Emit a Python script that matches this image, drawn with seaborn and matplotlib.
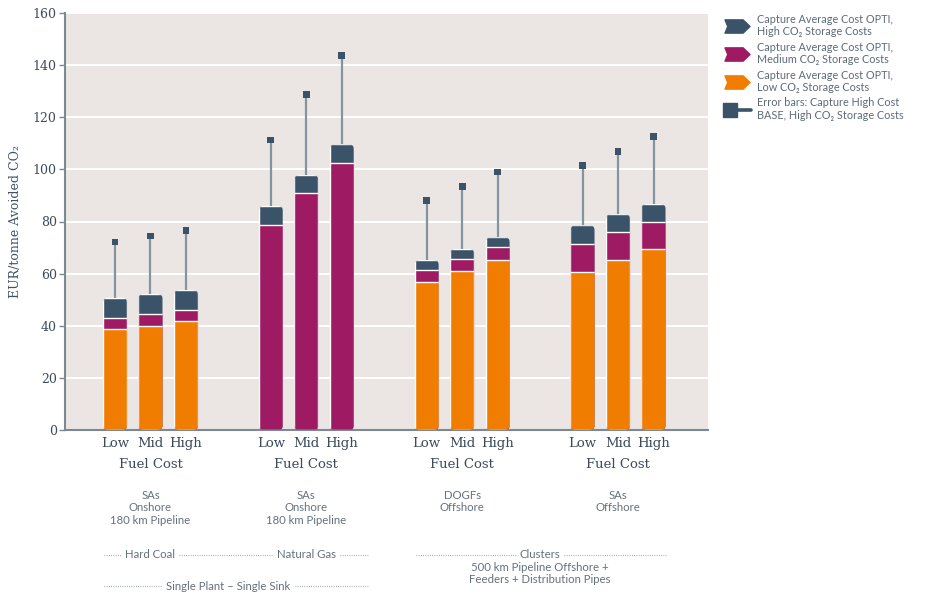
import numpy as np
import pandas as pd
import matplotlib
matplotlib.use("Agg")
import matplotlib.pyplot as plt
import matplotlib.transforms as mtransforms
from matplotlib.patches import FancyBboxPatch
from matplotlib.lines import Line2D
from matplotlib.path import Path
from matplotlib.legend_handler import HandlerBase
import seaborn as sns

# ---------------- data ----------------
groups = ["G1", "G2", "G3", "G4"]
levels = ["Low", "Mid", "High"]
# cumulative tops of each stacked scenario (EUR/tonne avoided CO2)
high_storage = [50.8, 52.2, 53.7, 86.0, 97.8, 109.6, 65.2, 69.5, 73.9, 78.5, 82.8, 86.7]
medium_storage = [42.9, 44.4, 46.0, 78.7, 90.8, 102.3, 61.4, 65.7, 70.1, 71.4, 75.9, 79.8]
low_storage = [38.6, 39.8, 41.7, np.nan, np.nan, np.nan, 56.7, 60.9, 65.2, 60.8, 65.2, 69.5]
error_high = [72.1, 74.4, 76.4, 111.3, 128.8, 143.6, 88.0, 93.4, 99.0, 101.4, 107.0, 112.6]
group_xlabel = "Fuel Cost"
group_desc = ["SAs\nOnshore\n180 km Pipeline", "SAs\nOnshore\n180 km Pipeline",
              "DOGFs\nOffshore", "SAs\nOffshore"]
legend_labels = ["Capture Average Cost OPTI,\nHigh CO\u2082 Storage Costs",
                 "Capture Average Cost OPTI,\nMedium CO\u2082 Storage Costs",
                 "Capture Average Cost OPTI,\nLow CO\u2082 Storage Costs",
                 "Error bars: Capture High Cost\nBASE, High CO\u2082 Storage Costs"]
ylabel = "EUR/tonne Avoided CO\u2082"

# ---------------- style ----------------
DARK = "#3a5369"
MAG = "#9e1a62"
ORA = "#f07d00"
BG = "#ebe6e3"
TXT = "#3b4a5c"
GREY_TXT = "#65717c"
GAP = 4.39
WIDTH = 0.68

sns.set_theme(style="white")
plt.rcParams["font.family"] = ["DejaVu Serif"]

pos = [g * GAP + j for g in range(len(groups)) for j in range(len(levels))]
df = pd.DataFrame({"pos": pos, "high": high_storage, "medium": medium_storage,
                   "low": low_storage, "err": error_high,
                   "level": levels * len(groups)})

fig = plt.figure(figsize=(9.45, 5.98), dpi=100)
ax = fig.add_axes([65 / 945, 1 - 430 / 598, 643 / 945, 417 / 598])
ax.set_facecolor(BG)

series = [("high", DARK), ("medium", MAG), ("low", ORA)]
seg_patches = []
for col, colr in series:
    n0 = len(ax.patches)
    sns.barplot(data=df.dropna(subset=[col]), x="pos", y=col, native_scale=True,
                color=colr, width=WIDTH, errorbar=None, saturation=1,
                edgecolor="white", linewidth=1.0, ax=ax, zorder=3)
    seg_patches.extend(ax.patches[n0:])

ax.set_xlim(-50 / 35.5, -50 / 35.5 + 643 / 35.5)
ax.set_ylim(0, 160)
px_per_x = 35.5
px_per_y = 417 / 160
r = 5.0 / px_per_x
aspect = (5.0 / px_per_y) / r
clips = {}
for p in seg_patches[:len(df)]:
    x0, w, h = p.get_x(), p.get_width(), p.get_height()
    fb = FancyBboxPatch((x0, 0), w, h, boxstyle=f"round,pad=0,rounding_size={r}",
                        mutation_aspect=aspect, transform=ax.transData)
    clips[round(x0 + w / 2, 3)] = fb
for p in seg_patches:
    key = round(p.get_x() + p.get_width() / 2, 3)
    if key in clips:
        p.set_clip_path(clips[key])

# error bars
ax.vlines(df["pos"], df["high"], df["err"], color="#8293a1", lw=1.6, zorder=2)
sns.scatterplot(data=df, x="pos", y="err", marker="s", s=24, color=DARK,
                edgecolor="none", ax=ax, zorder=4, legend=False)

# axes styling
ax.set_yticks(np.arange(0, 161, 20))
ax.yaxis.grid(True, color="white", lw=1.4)
ax.set_axisbelow(True)
for s in ["top", "right"]:
    ax.spines[s].set_visible(False)
for s in ["left", "bottom"]:
    ax.spines[s].set_color("#7c8894")
    ax.spines[s].set_linewidth(1.5)
ax.tick_params(axis="y", length=4, width=1, color="#7c8894", labelsize=9,
               labelcolor=TXT, pad=2, left=True)
ax.set_xticks(pos)
ax.set_xticklabels(levels * len(groups))
ax.tick_params(axis="x", length=0, labelsize=9.5, labelcolor=TXT, pad=5)
ax.set_xlabel("")
ax.set_ylabel(ylabel, fontsize=9, color="#3d5366", labelpad=8)

tr = mtransforms.blended_transform_factory(ax.transData, fig.transFigure)
sans = ["Lato", "DejaVu Sans"]
for g in range(len(groups)):
    cx = g * GAP + 1
    fig.text(cx, 1 - 464 / 598, group_xlabel, transform=tr, ha="center", va="center",
             fontsize=9.5, color=TXT, family=["DejaVu Serif"])
    fig.text(cx, 1 - 490 / 598, group_desc[g], transform=tr, ha="center", va="top",
             fontsize=8.2, color=GREY_TXT, family=sans, linespacing=1.15)

fig.canvas.draw()
renderer = fig.canvas.get_renderer()
inv = ax.transData.inverted()


def dotted_row(x_start, x_end, y_px, items):
    yf = 1 - y_px / 598
    texts = []
    for label, cx in items:
        t = fig.text(cx, yf, label, transform=tr, ha="center", va="center",
                     fontsize=8.2, color=GREY_TXT, family=sans)
        texts.append(t)
    fig.canvas.draw()
    cur = x_start
    pad = 4 / px_per_x
    for t in texts:
        bb = t.get_window_extent(renderer)
        l = inv.transform((bb.x0, 0))[0]
        rgt = inv.transform((bb.x1, 0))[0]
        fig.add_artist(Line2D([cur, l - pad], [yf, yf], transform=tr, color="#939da7",
                              lw=0.9, ls=(0, (0.6, 1.2))))
        cur = rgt + pad
    fig.add_artist(Line2D([cur, x_end], [yf, yf], transform=tr, color="#939da7",
                          lw=0.9, ls=(0, (0.6, 1.2))))


dotted_row(-0.32, 7.12, 555, [("Hard Coal", 1.0), ("Natural Gas", 1 + GAP)])
dotted_row(-0.32, 7.12, 586, [("Single Plant \u2013 Single Sink", 1 + GAP / 2)])
dotted_row(8.48, 15.55, 555, [("Clusters", 1 + 2.5 * GAP)])
fig.text(1 + 2.5 * GAP, 1 - 562 / 598, "500 km Pipeline Offshore +\nFeeders + Distribution Pipes",
         transform=tr, ha="center", va="top", fontsize=8.2, color=GREY_TXT,
         family=sans, linespacing=1.1)

# legend
chev = Path([(-1, 0.53), (0.45, 0.53), (1, 0), (0.45, -0.53), (-1, -0.53), (-0.78, 0), (-1, 0.53)],
            [Path.MOVETO] + [Path.LINETO] * 5 + [Path.CLOSEPOLY])


class HandlerErr(HandlerBase):
    def create_artists(self, legend, orig_handle, xdescent, ydescent, width, height,
                       fontsize, trans):
        y = height / 2 - ydescent
        x0 = -xdescent
        line = Line2D([x0 + width * 0.3, x0 + width], [y, y], color=DARK, lw=2.6,
                      transform=trans)
        sq = Line2D([x0 + width * 0.24], [y], marker="s", ms=10, color=DARK, ls="none",
                    transform=trans)
        return [line, sq]


handles = [Line2D([], [], marker=chev, ms=18, color=c, ls="none") for c in (DARK, MAG, ORA)]
handles.append(Line2D([], []))
leg = fig.legend(handles, legend_labels, loc="upper left",
                 bbox_to_anchor=(713 / 945, 1 - 4 / 598), frameon=False,
                 labelcolor="#5d6b78", handlelength=2.6,
                 handletextpad=0.6, labelspacing=0.42,
                 handler_map={handles[3]: HandlerErr()},
                 prop={"family": sans, "size": 7.8})
for t in leg.get_texts():
    t.set_linespacing(1.15)

fig.savefig("out.png", dpi=100, facecolor="white")
